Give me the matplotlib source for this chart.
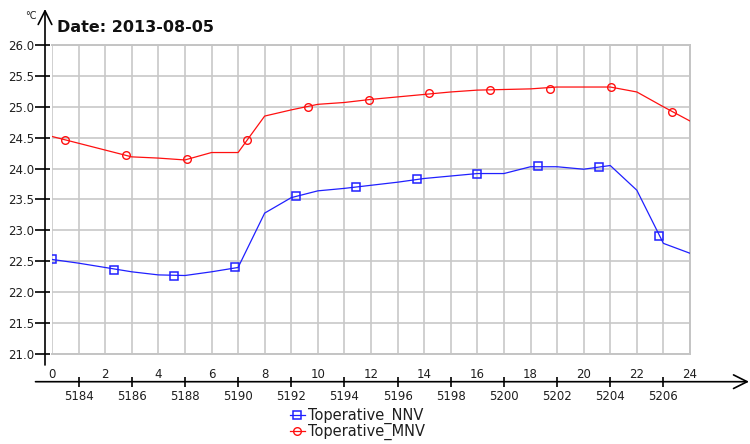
import matplotlib
matplotlib.use("Agg")
import matplotlib.pyplot as plt
from matplotlib.lines import Line2D

# ---- data ----
hours = list(range(0, 25))
nnv_vals = [22.53, 22.47, 22.40, 22.33, 22.28, 22.27, 22.33, 22.40, 23.28, 23.53,
            23.64, 23.68, 23.73, 23.78, 23.84, 23.88, 23.92, 23.92, 24.03, 24.03,
            23.99, 24.05, 23.65, 22.79, 22.63]
mnv_vals = [24.52, 24.41, 24.30, 24.19, 24.17, 24.14, 24.26, 24.26, 24.85, 24.95,
            25.04, 25.07, 25.12, 25.16, 25.20, 25.24, 25.27, 25.28, 25.29, 25.32,
            25.32, 25.32, 25.24, 25.00, 24.77]
nnv_marker_hours = [0.0, 2.32, 4.59, 6.88, 9.16, 11.44, 13.72, 16.0, 18.28, 20.58, 22.83]
nnv_marker_vals = [22.53, 22.36, 22.27, 22.40, 23.56, 23.70, 23.83, 23.92, 24.05, 24.03, 22.91]
mnv_marker_hours = [0.5, 2.78, 5.06, 7.34, 9.64, 11.92, 14.18, 16.48, 18.75, 21.04, 23.33]
mnv_marker_vals = [24.46, 24.22, 24.15, 24.47, 25.00, 25.11, 25.22, 25.27, 25.29, 25.32, 24.91]
hour_ticks = [0, 2, 4, 6, 8, 10, 12, 14, 16, 18, 20, 22, 24]
year_hour_ticks = [5184, 5186, 5188, 5190, 5192, 5194, 5196, 5198, 5200, 5202, 5204, 5206]
year_hour_offset = 5183
y_ticks = [21.0, 21.5, 22.0, 22.5, 23.0, 23.5, 24.0, 24.5, 25.0, 25.5, 26.0]
series_labels = ["Toperative_NNV", "Toperative_MNV"]
title = "Date: 2013-08-05"

W, H = 750, 444
plt.rcParams['font.family'] = ['DejaVu Sans']
fig = plt.figure(figsize=(W / 100, H / 100), dpi=100)
L, R, T, B = 52, 690, 45, 354
ax = fig.add_axes([L / W, 1 - B / H, (R - L) / W, (B - T) / H])

blue = '#2020ff'
red = '#ff1010'
grid_c = '#c8c8c8'
txt_c = '#1e1e1e'

ax.plot(hours, nnv_vals, color=blue, lw=0.9, zorder=3)
ax.plot(hours, mnv_vals, color=red, lw=0.9, zorder=3)
ax.plot(nnv_marker_hours, nnv_marker_vals, ls='none', marker='s', ms=5.5,
        mfc='none', mec=blue, mew=1.1, zorder=4)
ax.plot(mnv_marker_hours, mnv_marker_vals, ls='none', marker='o', ms=5.5,
        mfc='none', mec=red, mew=1.0, zorder=4)

ax.set_xlim(0, 24)
ax.set_ylim(21, 26)
ax.set_xticks(range(0, 25), minor=True)
ax.set_xticks(hour_ticks)
ax.set_xticklabels([str(h) for h in hour_ticks])
ax.set_yticks(y_ticks)
ax.set_yticklabels([f"{v:.1f}" for v in y_ticks])
ax.grid(True, which='both', axis='x', color=grid_c, lw=1.2)
ax.grid(True, which='major', axis='y', color=grid_c, lw=1.2)
ax.set_axisbelow(True)

for s in ['top', 'right', 'bottom']:
    ax.spines[s].set_color('#c4c4c4')
    ax.spines[s].set_linewidth(1.4)
ax.spines['left'].set_position(('outward', 7))
ax.spines['left'].set_visible(False)

ax.tick_params(axis='x', which='both', length=0, pad=10, labelsize=8.5, labelcolor=txt_c)
ax.tick_params(axis='y', direction='inout', length=10.8, width=1.2, color='black',
               pad=0.5, labelsize=8.5, labelcolor=txt_c)

sec = ax.secondary_xaxis(-(381.7 - B) / (B - T),
                         functions=(lambda h: h + year_hour_offset,
                                    lambda v: v - year_hour_offset))
sec.set_xticks(year_hour_ticks)
sec.set_xticklabels([str(v) for v in year_hour_ticks])
sec.spines['bottom'].set_visible(False)
sec.tick_params(axis='x', direction='inout', length=7.2, width=1.2, color='black',
                pad=2.5, labelsize=8.5, labelcolor=txt_c)

# axis arrows (figure pixels)
arrow = dict(arrowstyle='->,head_length=0.7,head_width=0.35', color='black', lw=1.2,
             shrinkA=0, shrinkB=0, mutation_scale=14)
ax.annotate('', xy=(749, H - 381.7), xytext=(35.5, H - 381.7),
            xycoords='figure pixels', textcoords='figure pixels', arrowprops=arrow)
ax.annotate('', xy=(45, H - 9), xytext=(45, H - 365),
            xycoords='figure pixels', textcoords='figure pixels', arrowprops=arrow)

fig.text(57 / W, 1 - 28 / H, title, fontsize=11.5, fontweight='bold', va='center',
         ha='left', color='#111111')
fig.text(31 / W, 1 - 16 / H, '°C', fontsize=7, va='center', ha='center', color=txt_c)

handles = [Line2D([], [], color=blue, lw=0.9, marker='s', ms=5.5, mfc='none', mec=blue, mew=1.1),
           Line2D([], [], color=red, lw=0.9, marker='o', ms=5.5, mfc='none', mec=red, mew=1.0)]
fig.legend(handles, series_labels, loc='upper left', bbox_to_anchor=(290 / W, 1 - 408 / H),
           frameon=False, fontsize=10.5, handlelength=1.0, handletextpad=0.2,
           labelspacing=0.0, borderpad=0, borderaxespad=0, labelcolor=txt_c)

fig.savefig('out.png', dpi=100)
